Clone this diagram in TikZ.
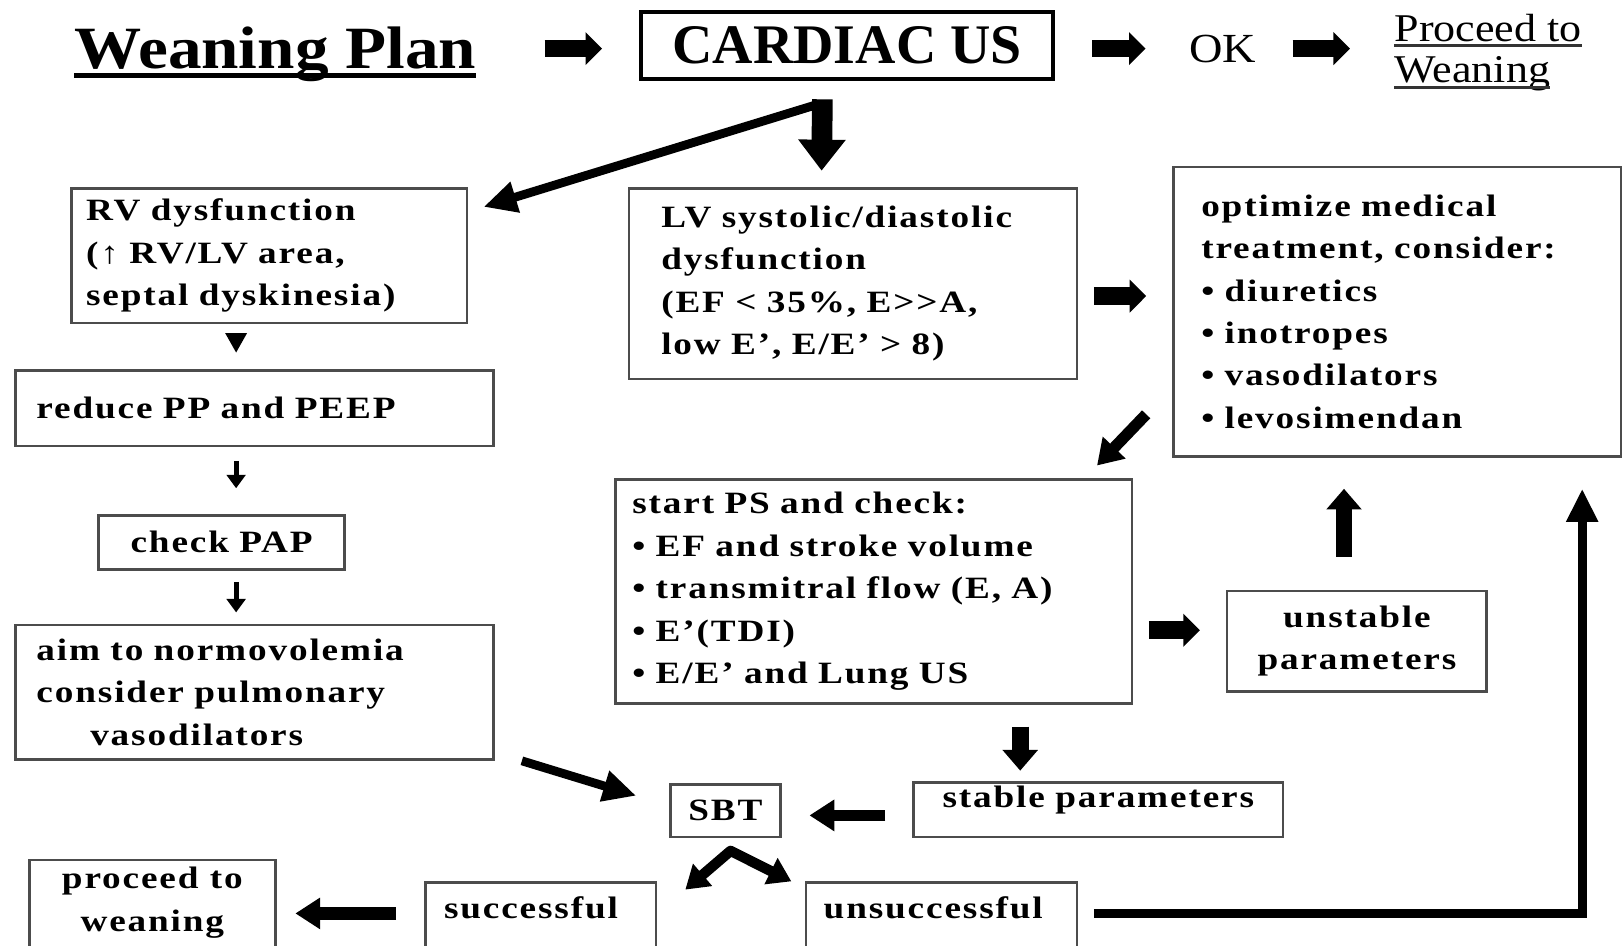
\documentclass[tikz,border=0pt]{standalone}
\usepackage{fontspec}
\setmainfont{Liberation Serif}
\newfontfamily\widefont[FakeStretch=1.2,LetterSpace=6]{Liberation Serif}
\newfontfamily\titlefont[FakeStretch=1.12]{Liberation Serif}
\newcommand\boxtext{\widefont\bfseries\fontsize{30}{41}\selectfont}
\usetikzlibrary{arrows.meta,calc}

\begin{document}
\begin{tikzpicture}[x=1pt,y=-1pt,
	box/.style={draw=black!70,line width=2.5pt,fill=white,anchor=north west,inner sep=0pt,font=\boxtext},
	lbox/.style={box,align=left},
	cbox/.style={box,align=center},
	toparr/.style={line width=17pt,-{Triangle[width=31pt,length=16pt]}},
	bigarr/.style={line width=20pt,-{Triangle[width=44pt,length=30pt]}},
	uparr/.style={line width=16pt,-{Triangle[width=33pt,length=20pt]}},
	midarr/.style={line width=11pt,-{Triangle[width=29pt,length=24pt]}},
	diagarr/.style={line width=8.5pt,-{Triangle[width=29pt,length=32pt]}},
	smallarr/.style={line width=5pt,-{Triangle[width=18pt,length=13pt]}}]
	\useasboundingbox (0,0) rectangle (1568,914);
	\clip (0,0) rectangle (1568,914);

	% top line
	\node[anchor=base west,inner sep=0pt,font=\titlefont\bfseries\fontsize{58}{66}\selectfont] (plan) at (72,66) {Weaning Plan};
	\draw[line width=4pt] ($(plan.base west)+(0,7)$) -- ($(plan.base east)+(0,7)$);
	\node[draw=black,line width=4pt,minimum width=398,minimum height=64,anchor=north west,inner sep=0pt,
		font=\bfseries\fontsize{54}{60}\selectfont] (cus) at (618,10) {CARDIAC US};
	\node[inner sep=0pt,font=\titlefont\fontsize{40}{46}\selectfont] (ok) at (1182,47) {OK};
	\node[anchor=base west,inner sep=0pt,font=\titlefont\fontsize{38}{44}\selectfont] (proca) at (1348,40) {Proceed to};
	\node[anchor=base west,inner sep=0pt,font=\titlefont\fontsize{38}{44}\selectfont] (procb) at (1348,80) {Weaning};
	\draw[line width=3pt,black!80] ($(proca.base west)+(0,4)$) -- ($(proca.base east)+(0,4)$);
	\draw[line width=3pt,black!80] ($(procb.base west)+(0,5)$) -- ($(procb.base east)+(0,5)$);

	% boxes
	\node[lbox,minimum width=382,minimum height=130,text width=354] (rv) at (68,181)
		{RV dysfunction\\(↑ RV/LV area,\\septal dyskinesia)};
	\node[lbox,minimum width=433,minimum height=184,text width=371] (lv) at (607,181)
		{LV systolic/diastolic\\dysfunction\\(EF < 35\%, E>>A,\\low E’, E/E’ > 8)};
	\node[lbox,minimum width=433,minimum height=280,text width=379] (opt) at (1133,160)
		{optimize medical\\treatment, consider:\\• diuretics\\• inotropes\\• vasodilators\\• levosimendan};
	\node[lbox,minimum width=462,minimum height=73,text width=422] (reduce) at (14,357) {reduce PP and PEEP};
	\node[cbox,minimum width=238,minimum height=52,text width=218] (pap) at (94,497) {check PAP};
	\node[lbox,minimum width=462,minimum height=130,text width=422] (aim) at (14,603)
		{aim to normovolemia\\consider pulmonary\\\hspace*{52pt}vasodilators};
	\node[lbox,minimum width=499,minimum height=217,text width=467] (ps) at (594,462)
		{start PS and check:\\• EF and stroke volume\\• transmitral flow (E, A)\\• E’(TDI)\\• E/E’ and Lung US};
	\node[cbox,minimum width=251,minimum height=97,text width=231] (unst) at (1185,570) {unstable\\parameters};
	\node[cbox,minimum width=357,text width=337,text height=24,text depth=29] (stab) at (882,755) {stable parameters};
	\node[cbox,minimum width=106,minimum height=51] (sbt) at (647,757) {SBT};
	\node[lbox,minimum width=223,text width=187,text height=35,text depth=80] (succ) at (410,852) {successful};
	\node[lbox,minimum width=262,text width=228,text height=35,text depth=80] (unsucc) at (778,852) {unsuccessful};
	\node[box,minimum width=238,text height=28,text depth=100] (pw) at (27,830)
		{\begin{tabular}[t]{@{}c@{}}proceed to\\weaning\end{tabular}};

	% arrows
	\draw[toparr] ($(plan.east |- ok.west)+(66,0)$) -- ($(cus.west |- ok.west)+(-36,0)$);
	\draw[toparr] ($(cus.east |- ok.west)+(36,0)$) -- ($(ok.west)+(-42,0)$);
	\draw[toparr] ($(ok.east)+(35,0)$) -- ($(proca.west |- ok.east)+(-43,0)$);
	\draw[bigarr] ($(cus.south)+(-24,18)$) -- ($(lv.north)+(-30.5,-16)$);
	\draw[diagarr] ($(cus.south)+(-29,23)$) -- ($(rv.north east)+(15,19)$);
	\draw[toparr] ($(lv.east)+(15,12)$) -- ($(opt.west)+(-25,-15)$);
	\draw[midarr] ($(opt.south west)+(-25,-42)$) -- ($(ps.north east)+(-35,-12)$);
	\draw[toparr] ($(ps.east)+(15,37.5)$) -- ($(unst.west)+(-25,-10.5)$);
	\draw[uparr] ($(unst.north)+(-12.5,-32)$) -- ($(opt.south)+(-51.5,30)$);
	\draw[uparr] ($(ps.south)+(141.5,21)$) -- ($(stab.north)+(-75.5,-10)$);
	\draw[midarr] ($(stab.west)+(-26,5.5)$) -- ($(sbt.east)+(27,4.5)$);
	\draw[diagarr] ($(aim.south east)+(26,0)$) -- ($(sbt.west)+(-32,-14.5)$);
	\draw[line width=10pt,line join=round,{Triangle[width=27pt,length=22pt]}-{Triangle[width=27pt,length=22pt]}]
		($(succ.north east)+(27,8)$) -- ($(sbt.south)+(5,12)$) -- ($(unsucc.north west)+(-13,0)$);
	\draw[midarr,line width=12pt] ($(succ.north west)+(-27,31)$) -- ($(pw.north east)+(18,53)$);
	\draw[diagarr,line join=miter] ($(unsucc.north east)+(15,31)$) -| ($(opt.south east)+(-39,30)$);
	\draw[line width=4pt,-{Triangle[width=20pt,length=19pt]}] ($(rv.south)+(-32,9)$) -- ($(reduce.north)+(-18,-16)$);
	\draw[smallarr] ($(reduce.south)+(-18,13)$) -- ($(pap.north)+(14,-25)$);
	\draw[smallarr] ($(pap.south)+(14,11)$) -- ($(aim.north)+(-18,-11)$);
\end{tikzpicture}
\end{document}
